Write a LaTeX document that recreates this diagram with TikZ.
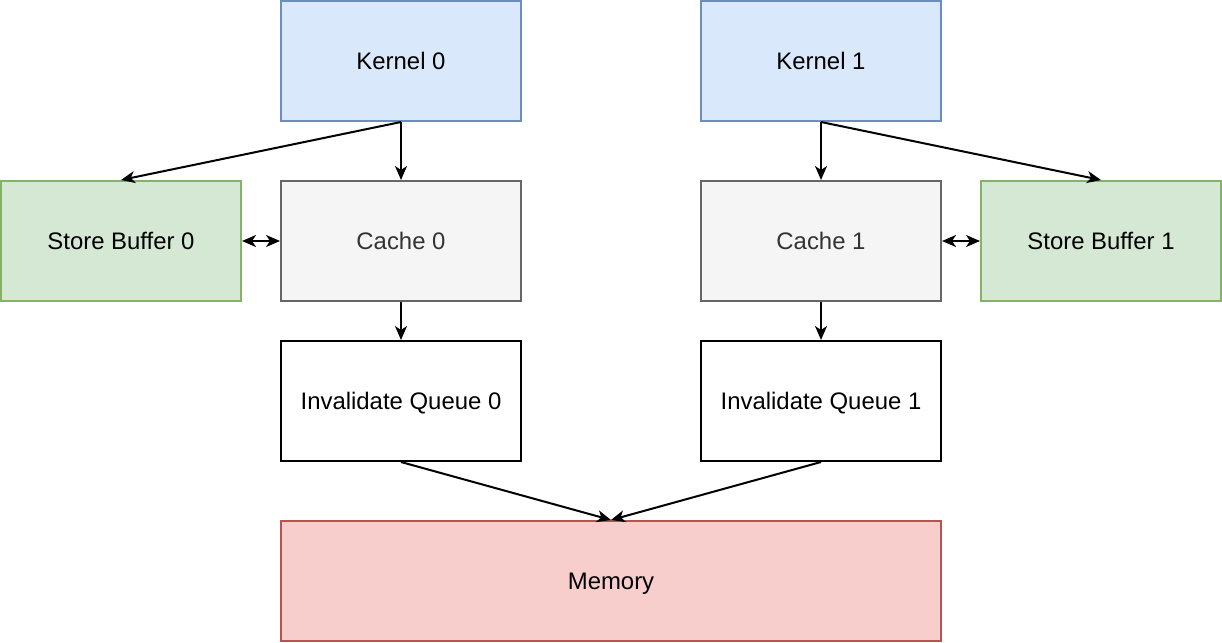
\documentclass[tikz,border=0pt]{standalone}
\usepackage{fontspec}
\setmainfont{Liberation Sans}
\usetikzlibrary{arrows.meta}
\definecolor{kernelfill}{HTML}{DAE8FC}
\definecolor{kerneldraw}{HTML}{6C8EBF}
\definecolor{bufferfill}{HTML}{D5E8D4}
\definecolor{bufferdraw}{HTML}{82B366}
\definecolor{cachefill}{HTML}{F5F5F5}
\definecolor{cachedraw}{HTML}{666666}
\definecolor{cachetext}{HTML}{333333}
\definecolor{memfill}{HTML}{F8CECC}
\definecolor{memdraw}{HTML}{B85450}

\begin{document}
\begin{tikzpicture}[x=0.5bp, y=-0.5bp,
    box/.style={draw, line width=1bp, minimum width=120bp, minimum height=60bp,
        inner sep=0pt, text height=8.6bp, text depth=0pt, font=\fontsize{12}{14}\selectfont},
    kernel/.style={box, fill=kernelfill, draw=kerneldraw},
    buffer/.style={box, fill=bufferfill, draw=bufferdraw},
    cache/.style={box, fill=cachefill, draw=cachedraw, text=cachetext},
    queue/.style={box, fill=white, draw=black},
    memory/.style={box, fill=memfill, draw=memdraw, minimum width=330bp},
    link/.style={line width=1bp, -{Stealth[length=7bp, width=6bp, inset=2bp]}},
    twolink/.style={line width=1bp, {Stealth[length=7bp, width=6bp, inset=2bp]}-{Stealth[length=7bp, width=6bp, inset=2bp]}}]
    \useasboundingbox (0,0) rectangle (1222,642);
    % processing side 0
    \node[kernel] (k0) at (401,61) {Kernel 0};
    \node[buffer] (sb0) at (121,241) {Store Buffer 0};
    \node[cache] (c0) at (401,241) {Cache 0};
    \node[queue] (q0) at (401,401) {Invalidate Queue 0};
    % processing side 1
    \node[kernel] (k1) at (821,61) {Kernel 1};
    \node[cache] (c1) at (821,241) {Cache 1};
    \node[buffer] (sb1) at (1101,241) {Store Buffer 1};
    \node[queue] (q1) at (821,401) {Invalidate Queue 1};
    % shared memory
    \node[memory] (mem) at (611,581) {Memory};
    \draw[link] (k0.south) -- (sb0.north);
    \draw[link] (k0.south) -- (c0.north);
    \draw[twolink] (sb0.east) -- (c0.west);
    \draw[link] (c0.south) -- (q0.north);
    \draw[link] (k1.south) -- (sb1.north);
    \draw[link] (k1.south) -- (c1.north);
    \draw[twolink] (sb1.west) -- (c1.east);
    \draw[link] (c1.south) -- (q1.north);
    \draw[link] (q0.south) -- (mem.north);
    \draw[link] (q1.south) -- (mem.north);
\end{tikzpicture}
\end{document}
